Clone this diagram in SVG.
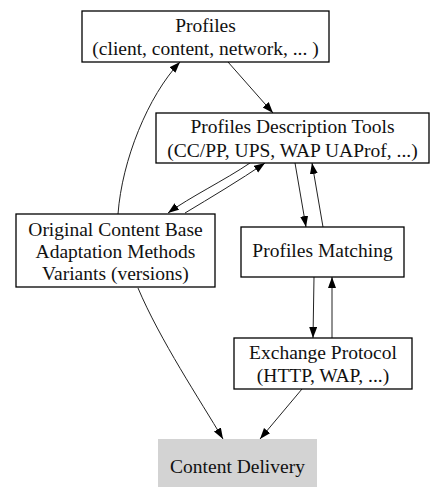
<svg xmlns="http://www.w3.org/2000/svg" width="430" height="487" viewBox="0 0 430 487">
<style>
.box{fill:#fff;stroke:#000;stroke-width:1.3}
.gray{fill:#d3d3d3;stroke:none}
.edge{fill:none;stroke:#222;stroke-width:1}
text{font-family:"Liberation Serif","Times New Roman",serif;font-size:19.5px;fill:#111;text-anchor:middle}
</style>
<defs>
<marker id="arr" markerUnits="userSpaceOnUse" markerWidth="12" markerHeight="10" refX="11" refY="4" orient="auto">
<path d="M0,0 L11,4 L0,8 Z" fill="#000"/>
</marker>
</defs>
<rect width="430" height="487" fill="#fff"/>
<g id="connectors">
<path class="edge" marker-end="url(#arr)" d="M118,214 C122,160 148,96 180,62"/>
<path class="edge" marker-end="url(#arr)" d="M228,62 L273,113"/>
<path class="edge" marker-end="url(#arr)" d="M250,163 C225,180 190,197 168,213"/>
<path class="edge" marker-end="url(#arr)" d="M185,213 C210,198 240,180 265,163"/>
<path class="edge" marker-end="url(#arr)" d="M295,163 L306,227"/>
<path class="edge" marker-end="url(#arr)" d="M323,227 L312,163"/>
<path class="edge" marker-end="url(#arr)" d="M314,277 L313,338"/>
<path class="edge" marker-end="url(#arr)" d="M332,338 L332,277"/>
<path class="edge" marker-end="url(#arr)" d="M138,288 C160,340 200,400 223,439"/>
<path class="edge" marker-end="url(#arr)" d="M302,389 L260,439"/>
</g>
<g id="profiles">
<rect class="box" x="82" y="11" width="247" height="51"/>
<text x="205.5" y="32">Profiles</text>
<text x="205.5" y="55">(client, content, network, ... )</text>
</g>
<g id="pdt">
<rect class="box" x="156" y="113" width="273" height="50"/>
<text x="292.5" y="133">Profiles Description Tools</text>
<text x="292.5" y="157">(CC/PP, UPS, WAP UAProf, ...)</text>
</g>
<g id="ocb">
<rect class="box" x="16" y="214" width="199" height="73"/>
<text x="115.5" y="236">Original Content Base</text>
<text x="115.5" y="258">Adaptation Methods</text>
<text x="115.5" y="280">Variants (versions)</text>
</g>
<g id="pm">
<rect class="box" x="241" y="227" width="163" height="50"/>
<text x="322.5" y="257">Profiles Matching</text>
</g>
<g id="ep">
<rect class="box" x="234" y="338" width="178" height="51"/>
<text x="323" y="359">Exchange Protocol</text>
<text x="323" y="382">(HTTP, WAP, ...)</text>
</g>
<g id="cd">
<rect class="gray" x="158" y="439" width="159" height="50"/>
<text x="237.5" y="473">Content Delivery</text>
</g>
</svg>
